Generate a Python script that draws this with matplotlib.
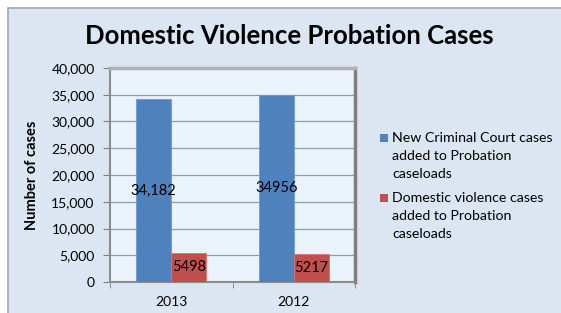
import matplotlib.pyplot as plt
import numpy as np
from matplotlib.patches import Rectangle

categories = ["2013", "2012"]
new_cases = [34182, 34956]
dv_cases = [5498, 5217]
new_labels = ["34,182", "34956"]
dv_labels = ["5498", "5217"]
series_names = ["New Criminal Court cases\nadded to Probation\ncaseloads",
                "Domestic violence cases\nadded to Probation\ncaseloads"]
yticks = [0, 5000, 10000, 15000, 20000, 25000, 30000, 35000, 40000]

plt.rcParams['font.family'] = ['Lato', 'DejaVu Sans']

W, H = 561, 313
fig = plt.figure(figsize=(W/100, H/100), dpi=100)
fig.patch.set_facecolor('white')
# outer chart frame
fig.patches.append(Rectangle((8/W, -0.01), 1.0, 1 - 8/H + 0.01, transform=fig.transFigure,
                             facecolor='#dce6f2', edgecolor='#a6a6a6', linewidth=1.2, zorder=-10))

ax = fig.add_axes([110/W, 1 - 282/H, (355-110)/W, (282-68)/H])
ax.set_zorder(2)
ax.set_facecolor('#eaf2fc')
x = np.arange(len(categories))
bw = 0.285
b1 = ax.bar(x - bw/2, new_cases, bw, color='#4f81bd', zorder=3, edgecolor='#6f99cc', linewidth=0.6)
b2 = ax.bar(x + bw/2, dv_cases, bw, color='#c0504d', zorder=3, edgecolor='#d27370', linewidth=0.6)

for rect, lab in zip(b1, new_labels):
    ax.text(rect.get_x() + rect.get_width()/2, rect.get_height()/2, lab,
            ha='center', va='center', fontsize=10.5, color='black', zorder=4)
for rect, lab in zip(b2, dv_labels):
    ax.text(rect.get_x() + rect.get_width()/2, rect.get_height()/2, lab,
            ha='center', va='center', fontsize=10.5, color='black', zorder=4)

ax.set_xlim(-0.5, 1.5)
ax.set_ylim(0, 40000)
ax.set_yticks(yticks)
ax.set_yticklabels([f"{v:,}" for v in yticks], fontsize=10)
ax.yaxis.grid(True, color='#9a9a9a', linewidth=0.9, zorder=1)
ax.set_xticks(x)
ax.set_xticklabels(categories, fontsize=10)
ax.tick_params(axis='x', length=0, pad=10)
ax.set_xticks([-0.5, 0.5, 1.5], minor=True)
ax.tick_params(axis='x', which='minor', length=4, color='#808080')
ax.tick_params(axis='y', length=5, color='#808080', pad=6)
for s in ['top', 'right']:
    ax.spines[s].set_color('#b0b0b0')
    ax.spines[s].set_linewidth(2.5)
ax.spines['right'].set_color('#7f7f7f')
ax.spines['left'].set_color('#8c8c8c')
ax.spines['bottom'].set_color('#8c8c8c')
ax.spines['left'].set_linewidth(1.5)
ax.spines['bottom'].set_linewidth(1.5)

ax.set_ylabel("Number of cases", fontsize=10.5, fontweight='bold')
ax.yaxis.set_label_coords(-71/245, 0.5)

fig.text(289/W, 1 - 36/H, "Domestic Violence Probation Cases", ha='center', va='center',
         fontsize=18.5, fontweight='bold')

# legend
colors = ['#4f81bd', '#c0504d']
centers = [138, 198]
for c, name, yc in zip(colors, series_names, centers):
    fig.patches.append(Rectangle((380/W, 1 - (yc + 4)/H), 8/W, 8/H, transform=fig.transFigure,
                                 facecolor=c, edgecolor='none'))
    for i, line in enumerate(name.split("\n")):
        fig.text(392/W, 1 - (yc + i*17.8)/H, line, ha='left', va='center', fontsize=10.2)

fig.savefig('out.png', dpi=100, facecolor=fig.get_facecolor())
